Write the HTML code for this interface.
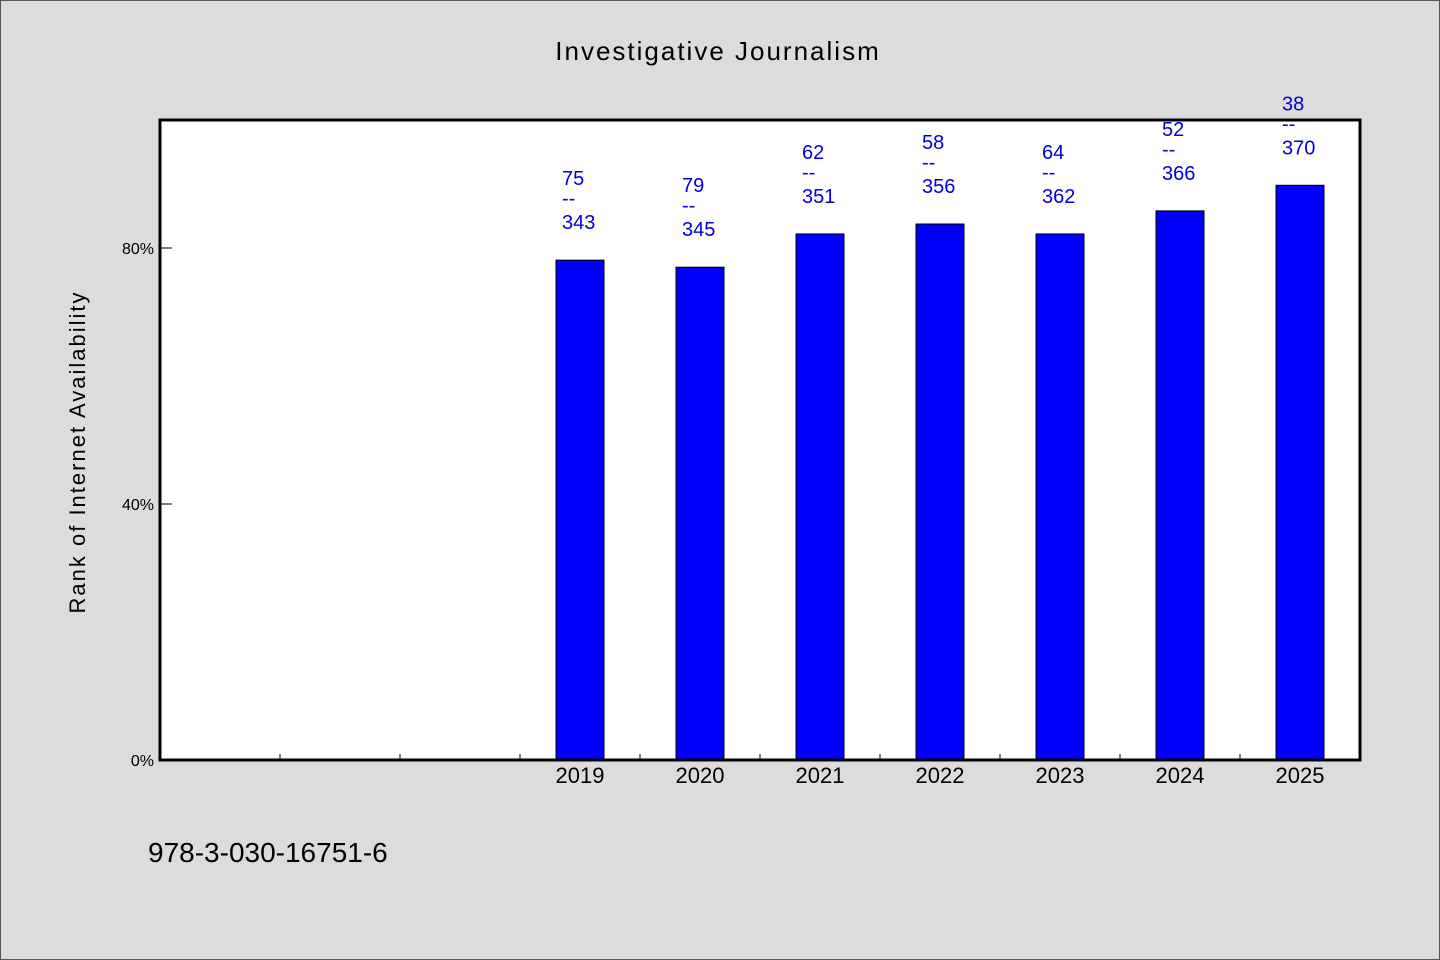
<!DOCTYPE html>
<html><head><meta charset="utf-8"><style>
html,body{margin:0;padding:0;background:#dcdcdc;}
svg{display:block;}
.w{font-family:"WenQuanYi Zen Hei","Liberation Sans",sans-serif;}
.l{font-family:"Liberation Sans",sans-serif;}
</style></head><body>
<svg id="chart" width="1440" height="960" xmlns="http://www.w3.org/2000/svg">
<rect x="0.5" y="0.5" width="1439" height="959" fill="#dcdcdc" stroke="#555"/>
<text class="w" x="718" y="60" font-size="26" text-anchor="middle" letter-spacing="2">Investigative Journalism</text>
<rect x="160" y="120" width="1200" height="640" fill="#fff"/>
<g id="bars"></g>
<g id="axes"></g>
<text class="w" transform="translate(85,452) rotate(-90)" font-size="22" text-anchor="middle" letter-spacing="2">Rank of Internet Availability</text>
<text class="w" x="148" y="862" font-size="28">978-3-030-16751-6</text>
</svg>
<script>
const categories = ["", "", "", "2019", "2020", "2021", "2022", "2023", "2024", "2025"];
const values = [null, null, null, 78.1, 77.0, 82.2, 83.75, 82.2, 85.8, 89.8];
const topLabels = [null, null, null, "75", "79", "62", "58", "64", "52", "38"];
const bottomLabels = [null, null, null, "343", "345", "351", "356", "362", "366", "370"];
const yTicks = [0, 40, 80];
const yTickLabels = ["0%", "40%", "80%"];

const NS = "http://www.w3.org/2000/svg";
const X0 = 160, X1 = 1360, Y0 = 760, Y1 = 120, YMAX = 100;
const slot = (X1 - X0) / categories.length;
const xc = i => X0 + slot * (i + 0.5);
const y = v => Y0 - (v / YMAX) * (Y0 - Y1);
function mk(tag, attrs, parent) {
  const e = document.createElementNS(NS, tag);
  for (const k in attrs) e.setAttribute(k, attrs[k]);
  parent.appendChild(e);
  return e;
}
const gb = document.getElementById("bars");
const ga = document.getElementById("axes");
values.forEach((v, i) => {
  if (v == null) return;
  const bw = 48;
  const r = mk("rect", {x: xc(i) - bw / 2, y: y(v), width: bw, height: Y0 - y(v), fill: "#0000ff", stroke: "#000", "stroke-width": 1}, gb);
  
  
  const left = xc(i) - 18;
  const by = y(v) - 31;
  const lines = [topLabels[i], "--", bottomLabels[i]];
  const offs = [-44, -24, 0];
  lines.forEach((s, j) => {
    const t = mk("text", {x: left, y: by + offs[j], "font-size": 20, fill: "#0000dd", class: "l"}, gb);
    t.textContent = s;
    
    
  });
});
// frame
const fr = mk("rect", {x: X0, y: Y1, width: X1 - X0, height: Y0 - Y1, fill: "none", stroke: "#000", "stroke-width": 3}, ga);


yTicks.forEach((v, i) => {
  const tl = mk("line", {x1: X0, x2: X0 + 12, y1: y(v), y2: y(v), stroke: "#000", "stroke-width": 1}, ga);
  
  
  const t = mk("text", {x: X0 - 6, y: y(v) + 6, "font-size": 16, "text-anchor": "end", class: "w"}, ga);
  t.textContent = yTickLabels[i];
  
  
});
categories.forEach((c, i) => {
  if (i > 0) {
    const tk = mk("line", {x1: X0 + slot * i, x2: X0 + slot * i, y1: Y0, y2: Y0 - 6, stroke: "#000", "stroke-width": 1}, ga);
    
    
  }
  if (c) {
    const t = mk("text", {x: xc(i), y: Y0 + 23, "font-size": 22, "text-anchor": "middle", class: "w"}, ga);
    t.textContent = c;
    
    
  }
});
</script>
</body></html>
